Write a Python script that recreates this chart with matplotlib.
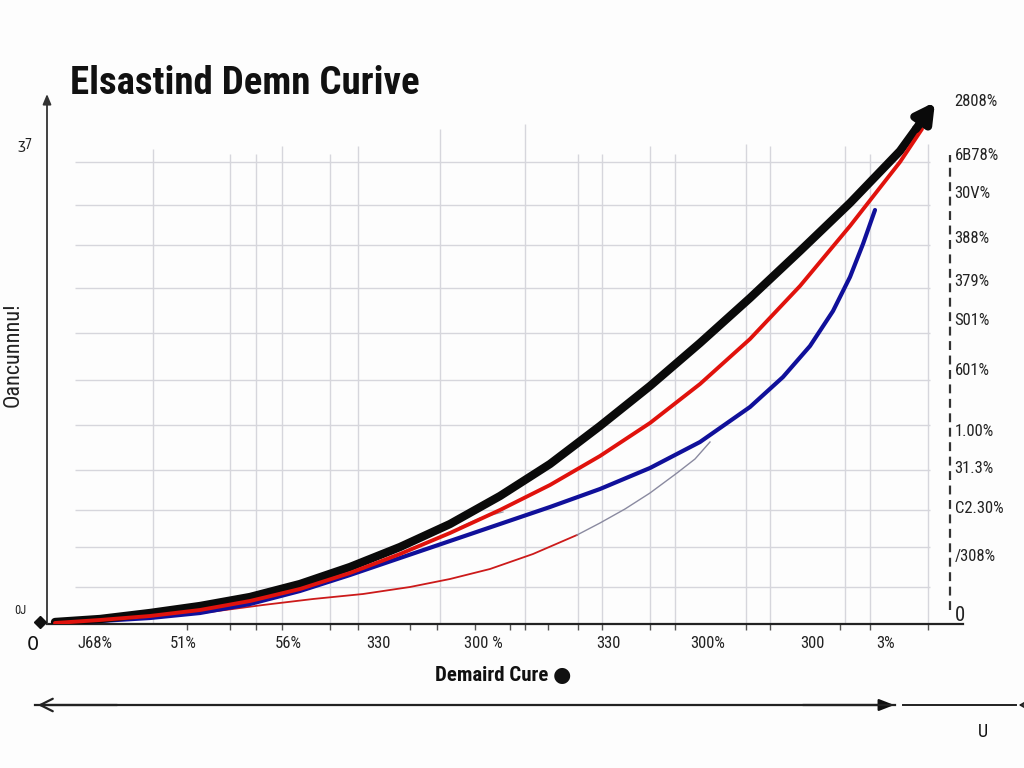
import matplotlib
matplotlib.use("Agg")
import matplotlib.pyplot as plt
from matplotlib import font_manager

names = {f.name for f in font_manager.fontManager.ttflist}
NARROW = None
for cand in ['Liberation Sans Narrow', 'Roboto Condensed', 'Open Sans Condensed']:
    if cand in names:
        NARROW = [cand, 'DejaVu Sans']
        break
STRETCH = 'normal'
if NARROW is None:
    NARROW = ['DejaVu Sans']
    STRETCH = 'condensed'

# ---------------- data ----------------
title = "Elsastind Demn Curive"
xlabel = "Demaird Cure \u25CF"
ylabel = "Oancunnnu!"

black_x = [5, 50, 100, 150, 200, 250, 300, 350, 400, 450, 500, 550, 600, 650, 700,
           750, 800, 850, 866]
black_y = [2, 5, 11, 18, 27, 40, 57, 77, 100, 128, 160, 198, 238, 281, 326,
           373, 421, 473, 495]
arrow_tip = (885, 522)

red_x = [5, 50, 100, 150, 200, 250, 300, 350, 400, 450, 500, 550, 600, 650, 700,
         750, 800, 850, 872]
red_y = [1, 4, 8, 14, 23, 35, 51, 70, 91, 114, 139, 168, 201, 240, 285,
         338, 398, 462, 495]

blue_x = [5, 50, 100, 150, 200, 250, 300, 350, 400, 450, 500, 550, 600, 650, 700,
          733, 760, 783, 800, 813, 825]
blue_y = [1, 3, 6, 11, 20, 33, 49, 66, 83, 100, 117, 135, 156, 182, 217,
          247, 278, 313, 347, 380, 414]

thin_red_x = [5, 100, 160, 213, 263, 313, 360, 400, 440, 483, 527]
thin_red_y = [0, 6, 12, 19, 25, 30, 37, 45, 55, 70, 89]

gray_x = [527, 550, 575, 600, 627, 645, 660]
gray_y = [89, 101, 115, 131, 151, 165, 182]

faint_x = [410, 430, 453]
faint_y = [97, 106, 112]

x_tick_pos = [45, 133, 238, 328, 433, 558, 658, 762, 836]
x_tick_labels = ["J68%", "51%", "56%", "330", "300 %", "330", "300%", "300", "3%"]
x_minor_pos = [137, 180, 206, 232, 280, 308, 360, 387, 425, 460, 475, 498, 528, 552,
               600, 625, 696, 720, 790, 820, 878]

grid_x = [103, 180, 206, 232, 280, 308, 390, 475, 528, 552, 600, 625, 696, 720, 795, 820, 878]
grid_x_top = [475, 470, 470, 478, 470, 478, 495, 500, 470, 470, 478, 470, 480, 478, 478, 470, 480]
grid_y = [462, 419, 379, 336, 291, 244, 199, 154, 114, 77, 37]

right_pos = [526, 472, 434, 388, 345, 306, 256, 195, 158, 117, 69, 11]
right_labels = ["2808%", "6B78%", "30V%", "388%", "379%", "S01%", "601%",
                "1.00%", "31.3%", "C2.30%", "/308%", "0"]

# ---------------- figure ----------------
W, H = 1024, 768
fig = plt.figure(figsize=(W / 100, H / 100), dpi=100, facecolor="#fdfdfd")
ax = fig.add_axes([47 / W, 144 / H, 916 / W, 524 / H])
ax.set_facecolor("#fdfdfd")
ax.set_xlim(-3, 913)
ax.set_ylim(0, 524)

for s in ["top", "right", "left"]:
    ax.spines[s].set_visible(False)
ax.spines["bottom"].set_color("#222222")
ax.spines["bottom"].set_linewidth(1.6)

# grid
for gx, top in zip(grid_x, grid_x_top):
    ax.vlines(gx, 0, top, color="#d6d6dc", lw=1.0, zorder=0)
for gy in grid_y:
    ax.hlines(gy, 25, 880, color="#d6d6dc", lw=1.0, zorder=0)

# curves
ax.plot(thin_red_x, thin_red_y, color="#cc1a1a", lw=1.3, zorder=2)
ax.plot(gray_x, gray_y, color="#8a8aa0", lw=1.0, zorder=2)
ax.plot(faint_x, faint_y, color="#9a9aa8", lw=0.9, zorder=2)
ax.plot(blue_x, blue_y, color="#10109a", lw=3.0, zorder=3, solid_capstyle="round",
        solid_joinstyle="round")
ax.plot(black_x, black_y, color="#0a0a0a", lw=6.0, zorder=4, solid_capstyle="round",
        solid_joinstyle="round")
ax.plot(red_x, red_y, color="#e0120c", lw=2.8, zorder=5, solid_capstyle="round",
        solid_joinstyle="round")
ax.annotate("", xy=arrow_tip, xytext=(black_x[-1], black_y[-1]),
            arrowprops=dict(arrowstyle="-|>,head_length=1.1,head_width=0.6",
                            color="#0a0a0a", lw=6, shrinkA=0, shrinkB=0),
            zorder=6, annotation_clip=False)

# left axis with arrow
ax.annotate("", xy=(-3, 530), xytext=(-3, 0),
            arrowprops=dict(arrowstyle="-|>,head_length=0.6,head_width=0.25",
                            color="#333333", lw=1.3, shrinkA=0, shrinkB=0),
            annotation_clip=False)
ax.plot([-10], [2], marker="D", color="#111111", ms=6, clip_on=False, zorder=6)

# right dashed line
ax.vlines(900, 14, 469, color="#333333", lw=1.6, linestyles=(0, (4, 2.5)))

# x ticks
ax.set_xticks(x_tick_pos)
ax.set_xticklabels(x_tick_labels, family=NARROW, stretch=STRETCH, fontsize=12, color="#222222")
ax.tick_params(axis="x", which="major", length=0, pad=9)
ax.set_xticks(x_minor_pos, minor=True)
ax.tick_params(axis="x", which="minor", length=4, width=1, color="#555555")
ax.set_yticks([])

# right side labels
ax2 = ax.twinx()
ax2.set_ylim(0, 524)
for s in ax2.spines.values():
    s.set_visible(False)
ax2.set_yticks(right_pos)
ax2.set_yticklabels(right_labels, family=NARROW, stretch=STRETCH, fontsize=12, color="#222222")
ax2.tick_params(axis="y", length=0, pad=-6)
ax2.get_yticklabels()[-1].set_fontsize(15)

# texts
renderer = fig.canvas.get_renderer()


def fit_width(t, target_px):
    ext = t.get_window_extent(renderer=renderer)
    if ext.width > target_px:
        t.set_fontsize(t.get_fontsize() * target_px / ext.width)


t_title = fig.text(70 / W, 1 - 94 / H, title, family=NARROW, stretch=STRETCH,
                   fontweight="bold", fontsize=30, color="#111111",
                   va="baseline", ha="left")
fit_width(t_title, 350)
fig.text(33 / W, 1 - 645 / H, "0", fontsize=14, color="#111111", ha="center", va="center")
fig.text(20 / W, 1 - 610 / H, "0J", family=NARROW, stretch=STRETCH, fontsize=9,
         color="#222222", ha="center", va="center")
fig.text(25 / W, 1 - 145 / H, "\u02927", family=NARROW, stretch=STRETCH, fontsize=10,
         color="#222222", ha="center", va="center")
fig.text(13 / W, 1 - 355 / H, ylabel, family=NARROW, stretch=STRETCH, fontsize=16,
         rotation=90, color="#222222", ha="center", va="center")
t_xl = fig.text(503 / W, 1 - 676 / H, xlabel, family=NARROW, stretch=STRETCH,
                fontweight="bold", fontsize=15, color="#111111", ha="center", va="center")
fit_width(t_xl, 165)
fig.text(983 / W, 1 - 732 / H, "U", family=NARROW, stretch=STRETCH, fontsize=13,
         color="#111111", ha="center", va="center")

# bottom double arrow
fig.add_artist(plt.Line2D([35 / W, 895 / W], [1 - 705 / H, 1 - 705 / H],
                          color="#222222", lw=1.6))
ax.annotate("", xy=(35, 63), xytext=(120, 63), xycoords="figure pixels",
            textcoords="figure pixels",
            arrowprops=dict(arrowstyle="->,head_length=0.9,head_width=0.45", color="#222222", lw=1.6))
ax.annotate("", xy=(897, 63), xytext=(800, 63), xycoords="figure pixels",
            textcoords="figure pixels",
            arrowprops=dict(arrowstyle="-|>,head_length=0.9,head_width=0.35", color="#111111", lw=1.6))
fig.add_artist(plt.Line2D([903 / W, 1016 / W], [1 - 705 / H, 1 - 705 / H],
                          color="#222222", lw=1.4))
ax.annotate("", xy=(1016, 63), xytext=(1030, 63), xycoords="figure pixels",
            textcoords="figure pixels",
            arrowprops=dict(arrowstyle="->,head_length=0.6,head_width=0.35", color="#222222", lw=1.2))

fig.savefig("out.png", dpi=100, facecolor=fig.get_facecolor())
